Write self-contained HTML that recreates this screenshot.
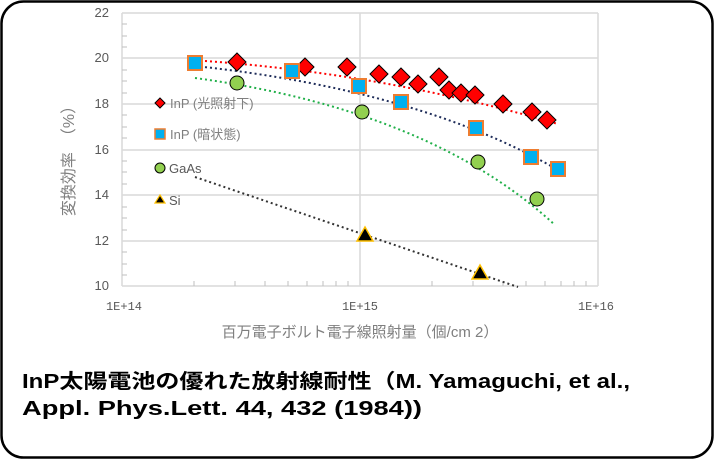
<!DOCTYPE html>
<html><head><meta charset="utf-8"><style>
html,body{margin:0;padding:0;background:#fff;}
svg{display:block}
</style></head><body>
<svg width="714" height="459" viewBox="0 0 714 459" xmlns="http://www.w3.org/2000/svg" font-family="Liberation Sans, Noto Sans CJK JP, sans-serif">
<rect x="1.5" y="1.5" width="711" height="456" rx="22" ry="22" fill="#fff" stroke="#000" stroke-width="2.5"/>
<g stroke="#d9d9d9" stroke-width="1.5">
<line x1="122" y1="13" x2="598" y2="13"/>
<line x1="122" y1="58" x2="598" y2="58"/>
<line x1="122" y1="104" x2="598" y2="104"/>
<line x1="122" y1="150" x2="598" y2="150"/>
<line x1="122" y1="195" x2="598" y2="195"/>
<line x1="122" y1="241" x2="598" y2="241"/>
<line x1="360" y1="13" x2="360" y2="286"/>
<line x1="598" y1="13" x2="598" y2="286"/>
<line x1="122" y1="13" x2="122" y2="286"/>
<line x1="122" y1="286" x2="598" y2="286"/>
</g>
<g stroke="#bfbfbf" stroke-width="1">
<line x1="122" y1="24" x2="127" y2="24"/><line x1="122" y1="36" x2="127" y2="36"/><line x1="122" y1="47" x2="127" y2="47"/>
<line x1="122" y1="70" x2="127" y2="70"/><line x1="122" y1="81" x2="127" y2="81"/><line x1="122" y1="93" x2="127" y2="93"/>
<line x1="122" y1="115" x2="127" y2="115"/><line x1="122" y1="127" x2="127" y2="127"/><line x1="122" y1="138" x2="127" y2="138"/>
<line x1="122" y1="161" x2="127" y2="161"/><line x1="122" y1="172" x2="127" y2="172"/><line x1="122" y1="184" x2="127" y2="184"/>
<line x1="122" y1="207" x2="127" y2="207"/><line x1="122" y1="218" x2="127" y2="218"/><line x1="122" y1="230" x2="127" y2="230"/>
<line x1="122" y1="252" x2="127" y2="252"/><line x1="122" y1="264" x2="127" y2="264"/><line x1="122" y1="275" x2="127" y2="275"/>
<line x1="194" y1="281" x2="194" y2="286"/><line x1="235" y1="281" x2="235" y2="286"/><line x1="265" y1="281" x2="265" y2="286"/><line x1="288" y1="281" x2="288" y2="286"/><line x1="307" y1="281" x2="307" y2="286"/><line x1="323" y1="281" x2="323" y2="286"/><line x1="336" y1="281" x2="336" y2="286"/><line x1="348" y1="281" x2="348" y2="286"/>
<line x1="432" y1="281" x2="432" y2="286"/><line x1="473" y1="281" x2="473" y2="286"/><line x1="503" y1="281" x2="503" y2="286"/><line x1="526" y1="281" x2="526" y2="286"/><line x1="545" y1="281" x2="545" y2="286"/><line x1="561" y1="281" x2="561" y2="286"/><line x1="574" y1="281" x2="574" y2="286"/><line x1="586" y1="281" x2="586" y2="286"/>
</g>
<g fill="#595959" font-size="13" text-anchor="end">
<text x="109" y="17">22</text><text x="109" y="62">20</text><text x="109" y="108">18</text><text x="109" y="154">16</text><text x="109" y="199">14</text><text x="109" y="245">12</text><text x="109" y="290">10</text>
</g>
<g fill="#595959" font-size="12" text-anchor="middle" font-family="Liberation Mono, monospace">
<text x="124" y="310">1E+14</text><text x="360" y="310">1E+15</text><text x="596" y="310">1E+16</text>
</g>
<text x="360" y="337" fill="#7f7f7f" font-size="15" text-anchor="middle">百万電子ボルト電子線照射量（個/cm 2）</text>
<text transform="translate(74,157) rotate(-90)" fill="#7f7f7f" font-size="16" text-anchor="middle">変換効率　（%）</text>
<g fill="none" stroke-width="2" stroke-dasharray="2,3">
<path d="M190 60 Q380 72 558 124" stroke="#ff0000"/>
<path d="M195 66 Q420 90 558 170" stroke="#1f2d5a"/>
<path d="M195 78 Q430 110 555 225" stroke="#22b04a"/>
<path d="M195 177 L518 287" stroke="#333"/>
</g>
<g fill="#ff0000" stroke="#000" stroke-width="1">
<path d="M237 53l9 9-9 9-9-9z"/><path d="M305 58l9 9-9 9-9-9z"/><path d="M347 58l9 9-9 9-9-9z"/><path d="M379 65l9 9-9 9-9-9z"/><path d="M401 68l9 9-9 9-9-9z"/><path d="M418 75l9 9-9 9-9-9z"/><path d="M439 68l9 9-9 9-9-9z"/><path d="M449 81l9 9-9 9-9-9z"/><path d="M461 84l9 9-9 9-9-9z"/><path d="M475 86l9 9-9 9-9-9z"/><path d="M503 95l9 9-9 9-9-9z"/><path d="M532 103l9 9-9 9-9-9z"/><path d="M547 111l9 9-9 9-9-9z"/>
</g>
<g fill="#00b0f0" stroke="#ed7d31" stroke-width="2">
<rect x="188" y="56" width="14" height="14"/><rect x="285" y="64" width="14" height="14"/><rect x="352" y="79" width="14" height="14"/><rect x="394" y="95" width="14" height="14"/><rect x="469" y="121" width="14" height="14"/><rect x="524" y="150" width="14" height="14"/><rect x="551" y="162" width="14" height="14"/>
</g>
<g fill="#92d050" stroke="#000" stroke-width="1">
<circle cx="237" cy="83" r="7"/><circle cx="362" cy="112" r="7"/><circle cx="478" cy="162" r="7"/><circle cx="537" cy="199" r="7"/>
</g>
<g fill="#000" stroke="#ffc000" stroke-width="1.5">
<path d="M365 227l8 14h-16z"/><path d="M480 265l8 14h-16z"/>
</g>
<path d="M160 98l5 5-5 5-5-5z" fill="#ff0000" stroke="#000" stroke-width="1"/>
<text x="170" y="108" fill="#7f7f7f" font-size="13">InP (光照射下)</text>
<rect x="155" y="129" width="10" height="10" fill="#00b0f0" stroke="#ed7d31" stroke-width="1.5"/>
<text x="170" y="139" fill="#7f7f7f" font-size="13">InP (暗状態)</text>
<circle cx="160" cy="168" r="5" fill="#92d050" stroke="#000"/>
<text x="169" y="173" fill="#595959" font-size="13">GaAs</text>
<path d="M160 195l5 8h-10z" fill="#000" stroke="#ffc000" stroke-width="1.2"/>
<text x="169" y="205" fill="#595959" font-size="13">Si</text>
<g font-weight="bold" font-size="20" fill="#000">
<text x="22" y="388" textLength="608" lengthAdjust="spacingAndGlyphs">InP太陽電池の優れた放射線耐性（M. Yamaguchi, et al.,</text>
<text x="22" y="415" textLength="400" lengthAdjust="spacingAndGlyphs">Appl. Phys.Lett. 44, 432 (1984))</text>
</g>
</svg>
</body></html>
